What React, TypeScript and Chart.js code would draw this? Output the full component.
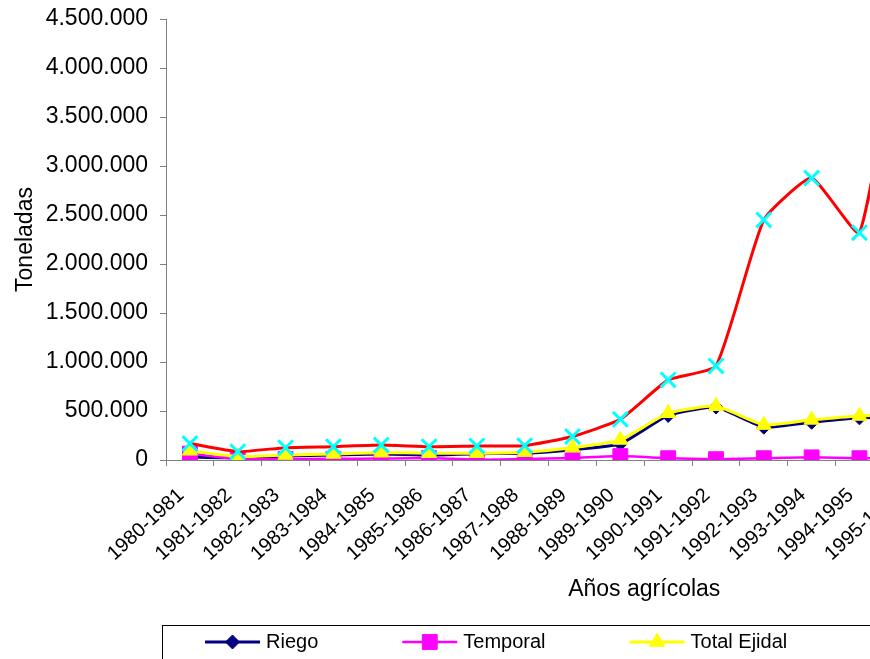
import React, { useEffect, useRef } from "react";
import { Chart, registerables } from "chart.js";
import { drawPoint } from "chart.js/helpers";

Chart.register(...registerables);

const FONT = "'Liberation Sans', Arial, Helvetica, sans-serif";
const CANVAS_W = 1150;
const CANVAS_H = 680;

// Ciclos agrícolas del eje horizontal
const ciclos = [
  "1980-1981", "1981-1982", "1982-1983", "1983-1984", "1984-1985",
  "1985-1986", "1986-1987", "1987-1988", "1988-1989", "1989-1990",
  "1990-1991", "1991-1992", "1992-1993", "1993-1994", "1994-1995",
  "1995-1996", "1996-1997", "1997-1998", "1998-1999", "1999-2000",
];

// Producción en toneladas por ciclo
const riego = [
  30000, 22000, 40000, 50000, 60000, 50000, 65000, 70000, 105000, 165000,
  455000, 540000, 335000, 385000, 430000, 440000,
];
const temporal = [
  65000, 8000, 10000, 12000, 15000, 20000, 3000, 10000, 20000, 40000,
  18000, 8000, 18000, 27000, 18000, 20000,
];
const totalEjidal = [
  95000, 35000, 52000, 62000, 75000, 70000, 70000, 80000, 125000, 205000,
  478000, 550000, 357000, 410000, 450000, 460000,
];
const total = [
  168000, 85000, 126000, 136000, 153000, 136000, 143000, 146000, 240000, 415000,
  817000, 960000, 2450000, 2877000, 2320000, 5000000,
];

// Eje vertical
const Y_MAX = 4500000;
const Y_STEP = 500000;

const miles = (v: number) =>
  String(Math.round(v)).replace(/\B(?=(\d{3})+(?!\d))/g, ".");

// Etiquetas inclinadas del eje de ciclos
const LABEL_ANGLE = 42.5;
const LABEL_DX = -5;
const LABEL_DY = 36.5;

const slantedLabels = {
  id: "slantedLabels",
  afterDraw(chart: any) {
    const scale = chart.scales.x;
    const { ctx } = chart;
    ctx.save();
    ctx.font = `20px ${FONT}`;
    ctx.fillStyle = "#000";
    ctx.textAlign = "right";
    ctx.textBaseline = "alphabetic";
    (chart.data.labels as string[]).forEach((lab, i) => {
      const px = scale.getPixelForTick(i);
      ctx.save();
      ctx.translate(px + LABEL_DX, scale.top + LABEL_DY);
      ctx.rotate((-LABEL_ANGLE * Math.PI) / 180);
      ctx.fillText(lab, 0, 0);
      ctx.restore();
    });
    ctx.restore();
  },
};

// Leyenda con recuadro, línea y marcador de cada serie
const legendBox = {
  id: "legendBox",
  afterDraw(chart: any) {
    const { ctx } = chart;
    const left = 162;
    const top = 625;
    const height = 38;
    const cy = 642;
    const lineLen = 55;
    const gap = 6;
    const spacing = 84;
    const inset = 43;
    ctx.save();
    ctx.font = `20px ${FONT}`;
    const items = chart.data.datasets.map((ds: any) => ({
      ds,
      w: ctx.measureText(ds.label).width,
    }));
    const inner = items.reduce(
      (s: number, it: any, i: number) =>
        s + lineLen + gap + it.w + (i < items.length - 1 ? spacing : 0),
      0
    );
    ctx.strokeStyle = "#000";
    ctx.lineWidth = 1;
    ctx.strokeRect(left + 0.5, top + 0.5, inner + inset * 2, height);

    let x = left + inset;
    for (const { ds, w } of items) {
      ctx.strokeStyle = ds.borderColor;
      ctx.lineWidth = ds.borderWidth;
      ctx.beginPath();
      ctx.moveTo(x, cy);
      ctx.lineTo(x + lineLen, cy);
      ctx.stroke();

      ctx.fillStyle = ds.pointBackgroundColor;
      ctx.strokeStyle = ds.pointBorderColor;
      ctx.lineWidth = ds.pointBorderWidth;
      drawPoint(
        ctx,
        {
          pointStyle: ds.pointStyle,
          rotation: 0,
          radius: ds.pointRadius,
          borderWidth: ds.pointBorderWidth,
        } as any,
        x + lineLen / 2,
        cy
      );

      ctx.fillStyle = "#000";
      ctx.textAlign = "left";
      ctx.textBaseline = "middle";
      ctx.fillText(ds.label, x + lineLen + gap, cy);
      x += lineLen + gap + w + spacing;
    }
    ctx.restore();
  },
};

export default function App() {
  const canvasRef = useRef<HTMLCanvasElement | null>(null);

  useEffect(() => {
    if (!canvasRef.current) return;
    Chart.defaults.font.family = FONT;

    const chart = new Chart(canvasRef.current, {
      type: "line",
      data: {
        labels: ciclos,
        datasets: [
          {
            label: "Riego",
            data: riego,
            borderColor: "#000080",
            borderWidth: 3,
            pointStyle: "rectRot",
            pointRadius: 7,
            pointBackgroundColor: "#000080",
            pointBorderColor: "#000080",
            pointBorderWidth: 1,
            tension: 0.15,
            fill: false,
            order: 4,
          },
          {
            label: "Temporal",
            data: temporal,
            borderColor: "#FF00FF",
            borderWidth: 2.5,
            pointStyle: "rect",
            pointRadius: 10.5,
            pointBackgroundColor: "#FF00FF",
            pointBorderColor: "#FF00FF",
            pointBorderWidth: 1,
            tension: 0.15,
            fill: false,
            order: 3,
          },
          {
            label: "Total Ejidal",
            data: totalEjidal,
            borderColor: "#FFFF00",
            borderWidth: 3,
            pointStyle: "triangle",
            pointRadius: 8.7,
            pointBackgroundColor: "#FFFF00",
            pointBorderColor: "#FFFF00",
            pointBorderWidth: 1,
            tension: 0.15,
            fill: false,
            order: 2,
          },
          {
            label: "Total",
            data: total,
            borderColor: "#FF0000",
            borderWidth: 3,
            pointStyle: "crossRot",
            pointRadius: 10.5,
            pointBackgroundColor: "#00FFFF",
            pointBorderColor: "#00FFFF",
            pointBorderWidth: 3,
            tension: 0.15,
            fill: false,
            order: 1,
          },
        ],
      },
      options: {
        responsive: false,
        animation: false,
        events: [],
        layout: {
          padding: { top: 19, left: 0, right: CANVAS_W - 1122.5, bottom: CANVAS_H - 460 - 143 },
        },
        plugins: {
          legend: { display: false },
          tooltip: { enabled: false },
        },
        scales: {
          x: {
            type: "category",
            offset: true,
            grid: {
              offset: true,
              drawOnChartArea: false,
              drawTicks: true,
              tickLength: 6,
              color: "#808080",
            },
            border: { color: "#808080", width: 1 },
            ticks: { display: false, autoSkip: false },
            title: {
              display: true,
              text: "Años agrícolas",
              color: "#000",
              font: { size: 23 },
              padding: 0,
            },
            afterFit(scale: any) {
              scale.height = 143;
              scale.paddingLeft = 0;
              scale.paddingRight = 0;
            },
          },
          y: {
            min: 0,
            max: Y_MAX,
            ticks: {
              stepSize: Y_STEP,
              padding: 12,
              color: "#000",
              font: { size: 23 },
              callback: (v: any) => miles(Number(v)),
            },
            grid: {
              drawOnChartArea: false,
              drawTicks: true,
              tickLength: 6,
              color: "#808080",
            },
            border: { color: "#808080", width: 1 },
            title: {
              display: true,
              text: "Toneladas",
              color: "#000",
              font: { size: 23 },
              padding: { top: 12, bottom: 0 },
            },
            afterFit(scale: any) {
              scale.width = 166;
              scale.paddingTop = 0;
              scale.paddingBottom = 0;
            },
          },
        },
      },
      plugins: [slantedLabels, legendBox],
    });

    return () => chart.destroy();
  }, []);

  return (
    <div
      style={{
        position: "fixed",
        left: 0,
        top: 0,
        width: 870,
        height: 659,
        overflow: "hidden",
        background: "#fff",
      }}
    >
      <canvas
        ref={canvasRef}
        width={CANVAS_W}
        height={CANVAS_H}
        style={{ display: "block", width: CANVAS_W, height: CANVAS_H }}
      />
    </div>
  );
}
